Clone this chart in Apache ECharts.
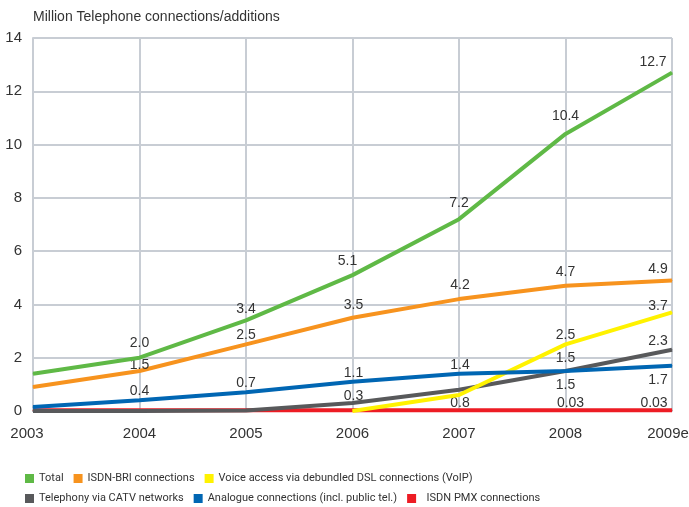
<!DOCTYPE html>
<html>
<head>
<meta charset="utf-8">
<script src="https://cdn.jsdelivr.net/npm/echarts@6/dist/echarts.min.js"></script>
<style>
  html, body { margin: 0; padding: 0; background: #fff; }
  #chart { width: 689px; height: 507px; }
</style>
</head>
<body>
<div id="chart"></div>
<script>
// Years on the horizontal axis
const years = ['2003', '2004', '2005', '2006', '2007', '2008', '2009e'];

// Million connections per series
const total      = [1.4, 2.0, 3.4, 5.1, 7.2, 10.4, 12.7];
const isdnBri    = [0.9, 1.5, 2.5, 3.5, 4.2, 4.7, 4.9];
const voip       = [null, null, null, 0, 0.6, 2.5, 3.7];
const catv       = [0, 0, 0.02, 0.3, 0.8, 1.5, 2.3];
const analogue   = [0.15, 0.4, 0.7, 1.1, 1.4, 1.5, 1.7];
const isdnPmx    = [0.03, 0.03, 0.03, 0.03, 0.03, 0.03, 0.03];

const yTicks = [0, 2, 4, 6, 8, 10, 12, 14];

// Which points carry a value label, and how it sits: [position, dx, dy]
const labelPlacement = {
  total:    {1: ['top', 0, -2], 2: ['top', 0, 1], 3: ['top', -5, -1], 4: ['top', 0, -4], 5: ['top', 0, -5], 6: ['top', -19, 2]},
  isdnBri:  {1: ['top', 0, 7], 2: ['top', 0, 3], 3: ['top', 1, 0], 4: ['top', 1, -1], 5: ['top', 0, -1], 6: ['top', -14, 1]},
  voip:     {5: ['top', 0, 3], 6: ['top', -14, 6]},
  catv:     {3: ['top', 1, 6], 4: ['bottom', 1, 1], 5: ['top', 0, 0], 6: ['top', -14, 4]},
  analogue: {1: ['top', 0, 3], 2: ['top', 0, 3], 3: ['top', 1, 4], 4: ['top', 1, 4], 5: ['bottom', 0, 2], 6: ['bottom', -14, 2]},
  isdnPmx:  {5: ['top', 5, 5], 6: ['top', -18, 5]}
};

const labelFont = { fontFamily: 'Liberation Sans', fontSize: 14, color: '#333' };

function fmt(v) {
  return v < 0.1 ? v.toFixed(2) : v.toFixed(1);
}

function buildData(values, key) {
  const place = labelPlacement[key] || {};
  return values.map((v, i) => {
    const p = place[i];
    if (v === null) return { value: null };
    return {
      value: v,
      label: p ? {
        show: true,
        position: p[0],
        offset: [p[1], p[2]],
        formatter: () => fmt(v),
        ...labelFont
      } : { show: false }
    };
  });
}

function lineSeries(name, values, key, color, z) {
  return {
    name: name,
    type: 'line',
    data: buildData(values, key),
    symbol: 'circle',
    symbolSize: 1,
    showSymbol: true,
    z: z,
    lineStyle: { color: color, width: 4 },
    itemStyle: { color: color },
    emphasis: { disabled: true },
    label: { show: false }
  };
}

const C = {
  total: '#5fb946',
  isdnBri: '#f7931e',
  voip: '#fff200',
  catv: '#58595b',
  analogue: '#0066b3',
  isdnPmx: '#ed1c24'
};

const chart = echarts.init(document.getElementById('chart'), null, { renderer: 'canvas' });

const legendText = { fontFamily: 'Roboto', fontSize: 11, color: '#333' };

chart.setOption({
  animation: false,
  backgroundColor: '#fff',
  title: {
    text: 'Million Telephone connections/additions',
    left: 28,
    top: 5,
    textStyle: { fontFamily: 'Liberation Sans', fontSize: 14, fontWeight: 'normal', color: '#333' }
  },
  grid: { left: 33, right: 17, top: 38, bottom: 96, containLabel: false, outerBoundsMode: 'none' },
  legend: [
    {
      data: ['Total', 'ISDN-BRI connections', 'Voice access via debundled DSL connections (VoIP)'],
      left: 20, top: 468,
      icon: 'rect', itemWidth: 9, itemHeight: 9, itemGap: 10,
      textStyle: legendText,
      selectedMode: false
    },
    {
      data: ['Telephony via CATV networks', 'Analogue connections (incl. public tel.)', 'ISDN PMX connections'],
      left: 20, top: 488,
      icon: 'rect', itemWidth: 9, itemHeight: 9, itemGap: 10,
      textStyle: legendText,
      formatter: (name) => name === 'ISDN PMX connections' ? '  ' + name : name,
      selectedMode: false
    }
  ],
  xAxis: {
    type: 'category',
    data: years,
    boundaryGap: false,
    axisLine: { show: true, lineStyle: { color: '#c8cdd4', width: 2 } },
    axisTick: { show: false },
    axisLabel: {
      margin: 15,
      fontFamily: 'Liberation Sans', fontSize: 15, color: '#333',
      formatter: (v, i) => i === 0 ? '{first|' + v + '}' : (i === years.length - 1 ? '{last|' + v + '}' : v),
      rich: {
        first: { fontFamily: 'Liberation Sans', fontSize: 15, color: '#333', padding: [0, 12, 0, 0] },
        last: { fontFamily: 'Liberation Sans', fontSize: 15, color: '#333', padding: [0, 8, 0, 0] }
      }
    },
    splitLine: { show: true, lineStyle: { color: '#c8cdd4', width: 2 } }
  },
  yAxis: {
    type: 'value',
    min: yTicks[0],
    max: yTicks[yTicks.length - 1],
    interval: 2,
    axisLine: { show: true, lineStyle: { color: '#c8cdd4', width: 2 } },
    axisTick: { show: false },
    axisLabel: { margin: 11, fontFamily: 'Liberation Sans', fontSize: 15, color: '#333' },
    splitLine: { show: true, lineStyle: { color: '#c8cdd4', width: 2 } }
  },
  series: [
    lineSeries('ISDN PMX connections', isdnPmx, 'isdnPmx', C.isdnPmx, 2),
    lineSeries('Telephony via CATV networks', catv, 'catv', C.catv, 3),
    lineSeries('Voice access via debundled DSL connections (VoIP)', voip, 'voip', C.voip, 4),
    lineSeries('Analogue connections (incl. public tel.)', analogue, 'analogue', C.analogue, 5),
    lineSeries('ISDN-BRI connections', isdnBri, 'isdnBri', C.isdnBri, 6),
    lineSeries('Total', total, 'total', C.total, 7)
  ]
});
</script>
</body>
</html>
